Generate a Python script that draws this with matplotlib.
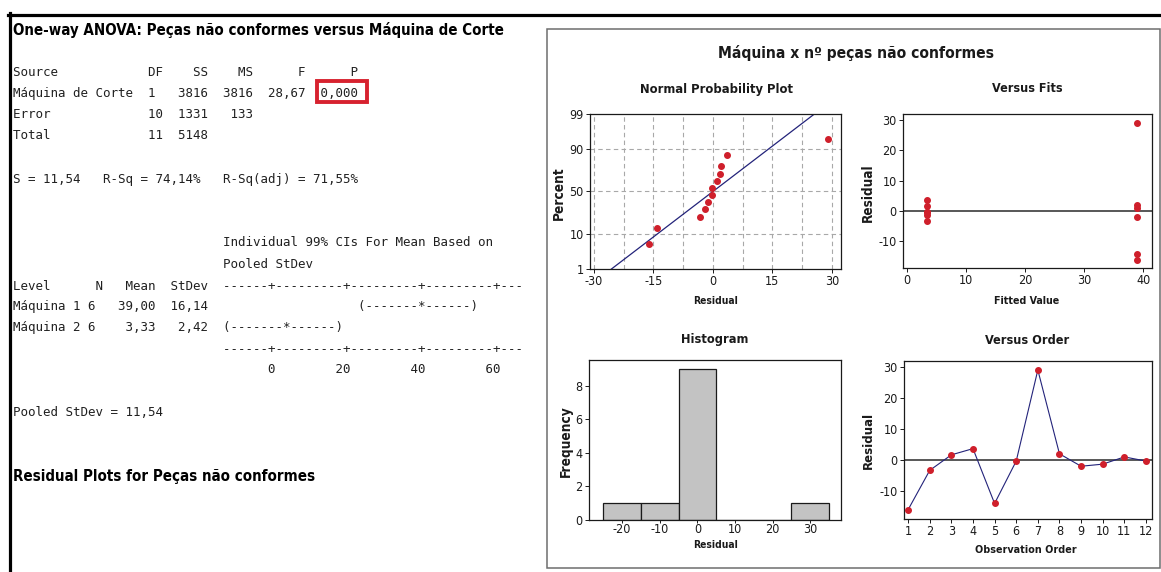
import numpy as np
import matplotlib
matplotlib.use("Agg")
import matplotlib.pyplot as plt
from matplotlib import font_manager as fm
from matplotlib.patches import Rectangle
from matplotlib.lines import Line2D
from statistics import NormalDist

# ---------------------------------------------------------------- data
observation = list(range(1, 13))
machine = [1, 2, 2, 2, 1, 2, 1, 1, 1, 2, 1, 2]
nonconforming = [23, 0, 5, 7, 25, 3, 68, 41, 37, 2, 40, 3]

hist_edges = [-25, -15, -5, 5, 15, 25, 35]
prob_percent_ticks = [1, 10, 50, 90, 99]
prob_grid_percent = [10, 50, 90]
prob_xticks = [-30, -15, 0, 15, 30]
fits_xticks = [0, 10, 20, 30, 40]
resid_yticks = [-10, 0, 10, 20, 30]
hist_xticks = [-20, -10, 0, 10, 20, 30]
hist_yticks = [0, 2, 4, 6, 8]

anova_title = "One-way ANOVA: Peças não conformes versus Máquina de Corte"
residual_title = "Residual Plots for Peças não conformes"
chart_title = "Máquina x nº peças não conformes"
panel_titles = ["Normal Probability Plot", "Versus Fits", "Histogram", "Versus Order"]


def cols(*items):
    """Lay out tokens of a fixed-width session line at given columns."""
    s = ""
    for c, tok in items:
        s = s.ljust(c) + tok
    return s


session_lines = [
    cols((0, "Source"), (18, "DF"), (24, "SS"), (30, "MS"), (38, "F"), (45, "P")),
    cols((0, "Máquina de Corte"), (18, "1"), (22, "3816"), (28, "3816"), (34, "28,67"), (41, "0,000")),
    cols((0, "Error"), (18, "10"), (22, "1331"), (29, "133")),
    cols((0, "Total"), (18, "11"), (22, "5148")),
    cols((0, "S = 11,54"), (12, "R-Sq = 74,14%"), (28, "R-Sq(adj) = 71,55%")),
    cols((28, "Individual 99% CIs For Mean Based on")),
    cols((28, "Pooled StDev")),
    cols((0, "Level"), (11, "N"), (15, "Mean"), (21, "StDev"), (28, "------+---------+---------+---------+---")),
    cols((0, "Máquina 1"), (10, "6"), (14, "39,00"), (21, "16,14"), (46, "(-------*------)")),
    cols((0, "Máquina 2"), (10, "6"), (15, "3,33"), (22, "2,42"), (28, "(-------*------)")),
    cols((28, "------+---------+---------+---------+---")),
    cols((34, "0"), (43, "20"), (53, "40"), (63, "60")),
    "Pooled StDev = 11,54",
]
session_y = [72, 93, 114.5, 135.5, 179, 243, 264, 286, 306.5, 328, 349.5, 369.5, 413]

# ---------------------------------------------------------------- model
parts = np.array(nonconforming, dtype=float)
grp = np.array(machine)
group_mean = {g: parts[grp == g].mean() for g in sorted(set(machine))}
fitted = np.array([group_mean[g] for g in grp])
resid = parts - fitted

nd = NormalDist()
srt = np.sort(resid)
n = len(srt)
rank_pct = (np.arange(1, n + 1) - 0.3) / (n + 0.4)
rank_z = np.array([nd.inv_cdf(p) for p in rank_pct])
z_lo, z_hi = nd.inv_cdf(0.01), nd.inv_cdf(0.99)
mu, sd = resid.mean(), resid.std(ddof=1)

# ---------------------------------------------------------------- fonts
_faces = fm.fontManager.ttflist
_names = {f.name for f in _faces}
if "Liberation Sans Narrow" in _names:
    SANS, STRETCH = ["Liberation Sans Narrow", "DejaVu Sans"], "normal"
elif any(f.name == "DejaVu Sans" and f.stretch == "condensed" for f in _faces):
    SANS, STRETCH = ["DejaVu Sans"], "condensed"
else:
    SANS, STRETCH = ["Liberation Sans", "DejaVu Sans"], "normal"

# ---------------------------------------------------------------- figure
W, H, DPI = 1161, 572, 100
plt.rcParams["font.family"] = SANS
plt.rcParams["font.stretch"] = STRETCH
fig = plt.figure(figsize=(W / DPI, H / DPI), dpi=DPI)
fig.patch.set_facecolor("white")
renderer = fig.canvas.get_renderer()

RED = "#cf1f2b"
NAVY = "#23237a"
GRID = "#a8a8a8"
INK = "#1a1a1a"
tick_fs = 9.0
mono_fs = 9.0


def fx(x):
    return x / W


def fy(y):
    return 1 - y / H


def fitted_text(x, y, s, size, rotation=0, ha="center", **kw):
    t = fig.text(fx(x), fy(y), s, rotation=rotation, ha=ha, va="center", **kw)
    bb = t.get_window_extent(renderer)
    cur = bb.height if rotation == 90 else bb.width
    t.set_fontsize(t.get_fontsize() * size / cur)
    return t


# ---------------------------------------------------------------- session text
fig.add_artist(Line2D([fx(8), fx(1161)], [fy(14.5), fy(14.5)], color="black", lw=2.3))
fig.add_artist(Line2D([fx(9.5), fx(9.5)], [fy(13), fy(572)], color="black", lw=2.3))

fitted_text(13, 30, anova_title, 490, ha="left", fontweight="bold", family=SANS,
            stretch=STRETCH, color="black")
fitted_text(12.5, 476.5, residual_title, 299, ha="left", fontweight="bold", family=SANS,
            stretch=STRETCH, color="black")

for line, y in zip(session_lines, session_y):
    fig.text(fx(12.5), fy(y), line, family=["DejaVu Sans Mono"], fontsize=mono_fs,
             ha="left", va="center", color="#202020")

# highlight around the p-value
fig.add_artist(Rectangle((fx(316.5), fy(101.5)), (366.5 - 316.5) / W, (101.5 - 80.5) / H,
                         transform=fig.transFigure, fill=False, ec="#d7222f", lw=2.8))

# ---------------------------------------------------------------- graph window
fig.add_artist(Rectangle((fx(546.5), fy(568)), (1159.5 - 546.5) / W, (568 - 29) / H,
                         transform=fig.transFigure, fill=False, ec="#6e6e6e", lw=1.1))
fitted_text(856, 53, chart_title, 275, fontweight="bold", family=SANS, stretch=STRETCH,
            color=INK)


def panel(l, t, r, b):
    ax = fig.add_axes([fx(l), fy(b), (r - l) / W, (b - t) / H])
    for sp in ax.spines.values():
        sp.set_color(INK)
        sp.set_linewidth(0.9)
    ax.tick_params(direction="out", length=2.6, width=0.7, pad=2.0, colors=INK,
                   labelsize=tick_fs)
    return ax


def labels(ax, xt, yt):
    ax.set_xticks(xt)
    ax.set_xticklabels([str(v) for v in xt])
    ax.set_yticks(yt)
    ax.set_yticklabels([str(v) for v in yt])


# Normal probability plot
ax1 = panel(590, 114, 841, 269)
for g in np.arange(-30, 30.1, 7.5):
    ax1.axvline(g, color=GRID, lw=0.8, ls=(0, (4, 3)), zorder=0)
for p in prob_grid_percent:
    ax1.axhline(nd.inv_cdf(p / 100), color=GRID, lw=0.8, ls=(0, (4, 3)), zorder=0)
ax1.plot([mu + sd * z_lo, mu + sd * z_hi], [z_lo, z_hi], color=NAVY, lw=0.9, zorder=2)
ax1.plot(srt, rank_z, "o", color=RED, ms=4, mec=RED, zorder=3)
ax1.set_xlim(-31.0, 32.3)
ax1.set_ylim(z_lo, z_hi)
ax1.set_xticks(prob_xticks)
ax1.set_xticklabels([str(v) for v in prob_xticks])
ax1.set_yticks([nd.inv_cdf(p / 100) for p in prob_percent_ticks])
ax1.set_yticklabels([str(p) for p in prob_percent_ticks])

# Versus fits
ax2 = panel(903, 114, 1152, 268)
ax2.axhline(0, color="#2a2a2a", lw=1.1, zorder=1)
ax2.plot(fitted, resid, "o", color=RED, ms=4, mec=RED, zorder=3)
ax2.set_xlim(-0.7, 41.5)
ax2.set_ylim(-18.75, 31.9)
labels(ax2, fits_xticks, resid_yticks)

# Histogram
ax3 = panel(589, 360, 841, 520)
ax3.hist(resid, bins=hist_edges, color="#c3c3c3", edgecolor=INK, linewidth=0.9, zorder=2)
ax3.set_xlim(-28.8, 38.2)
ax3.set_ylim(0, 9.52)
labels(ax3, hist_xticks, hist_yticks)
ax3.tick_params(axis="x", length=1.8, pad=0.6)

# Versus order
ax4 = panel(904, 361, 1152, 519)
ax4.axhline(0, color="#2a2a2a", lw=1.1, zorder=1)
ax4.plot(observation, resid, "-", color=NAVY, lw=0.8, zorder=2)
ax4.plot(observation, resid, "o", color=RED, ms=4, mec=RED, zorder=3)
ax4.set_xlim(0.81, 12.28)
ax4.set_ylim(-19.0, 31.9)
labels(ax4, observation, resid_yticks)

# panel titles
for (cx, cy, w), s in zip([(716, 89, 152), (1027, 89, 70), (715, 340, 66.7), (1027, 340, 83.3)],
                          panel_titles):
    fitted_text(cx, cy, s, w, fontweight="bold", family=SANS, stretch=STRETCH, color=INK)

# axis labels
for (cx, cy, w), s in zip([(715.5, 301.5, 44.3), (1026.7, 301.5, 65.3),
                           (715.5, 545, 44.3), (1026.3, 550, 100.7)],
                          ["Residual", "Fitted Value", "Residual", "Observation Order"]):
    fitted_text(cx, cy, s, w, fontweight="bold", family=SANS, stretch=STRETCH, color=INK)

for (cx, cy, h), s in zip([(559, 193.3, 53.3), (868.3, 192.5, 58.3),
                           (565.8, 440.8, 71.7), (868.3, 440, 56.7)],
                          ["Percent", "Residual", "Frequency", "Residual"]):
    fitted_text(cx, cy, s, h, rotation=90, fontweight="bold", family=["DejaVu Sans"],
                color=INK)

fig.savefig("out.png", dpi=DPI, facecolor="white")
